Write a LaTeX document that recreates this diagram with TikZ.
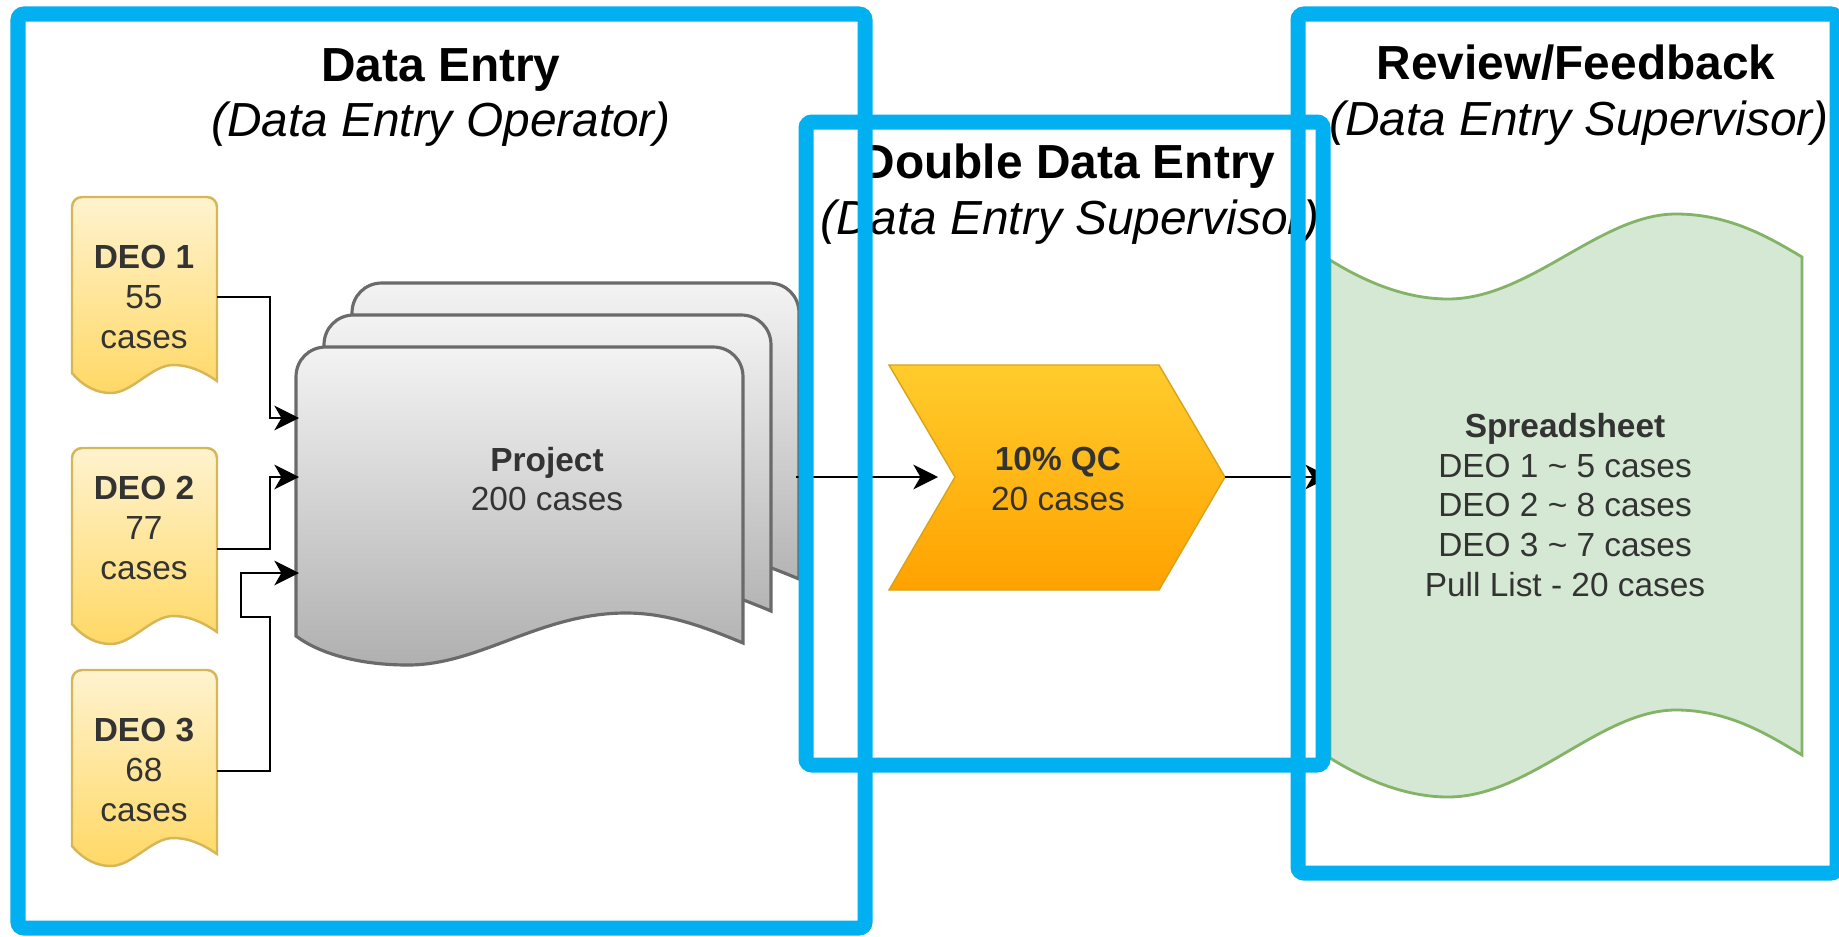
\documentclass[tikz,border=0pt]{standalone}
\usepackage{fontspec}
\setmainfont{Liberation Sans}
\usepackage{xcolor}
\usetikzlibrary{arrows.meta}
\definecolor{phaseblue}{HTML}{00B0F0}
\definecolor{deotop}{HTML}{FFF3CF}
\definecolor{deobottom}{HTML}{FFD865}
\definecolor{deoline}{HTML}{D6B656}
\definecolor{doctop}{HTML}{F3F3F3}
\definecolor{docbottom}{HTML}{B0B0B0}
\definecolor{docline}{HTML}{6A6A6A}
\definecolor{qctop}{HTML}{FFCC2C}
\definecolor{qcbottom}{HTML}{FFA200}
\definecolor{qcline}{HTML}{D9A21A}
\definecolor{sheetfill}{HTML}{D5E8D4}
\definecolor{sheetline}{HTML}{82B366}
\definecolor{innergray}{HTML}{333333}

\tikzset{
  phase/.style={draw=phaseblue, line width=0.15cm, rounded corners=0.06cm},
  heading/.style={font=\fontsize{13.6}{16}\selectfont\bfseries, anchor=base},
  subheading/.style={font=\fontsize{13.6}{16}\selectfont\itshape, anchor=base},
  deoshape/.style={draw=deoline, line width=0.7pt, top color=deotop, bottom color=deobottom},
  projdoc/.style={draw=docline, line width=0.9pt, top color=doctop, bottom color=docbottom},
  qcshape/.style={draw=qcline, line width=0.4pt, top color=qctop, bottom color=qcbottom},
  sheetshape/.style={draw=sheetline, line width=0.8pt, fill=sheetfill},
  intext/.style={font=\fontsize{9.5}{11.3}\selectfont, text=innergray, align=center},
  conn/.style={->, line width=0.65pt, draw=black}
}

\begin{document}
\begin{tikzpicture}[x=0.01cm, y=-0.01cm, >={Stealth[length=7pt,width=7pt,inset=2pt]}]
    \useasboundingbox[fill=white] (0,0) rectangle (1839,936);
    %Project stack
    \foreach \dx/\dy in {56/-64,28/-32,0/0}{
      \begin{scope}[shift={(\dx,\dy)}]
        \draw[projdoc] (296,636) -- (296,377) .. controls (296,360) and (309,347) .. (326,347)
          -- (713,347) .. controls (730,347) and (743,360) .. (743,377) -- (743,643)
          .. controls (700,625) and (665,613) .. (626,613)
          .. controls (540,613) and (480,665) .. (408,665)
          .. controls (360,665) and (320,654) .. (296,636) -- cycle;
      \end{scope}
    }
    \node[intext] (project) at (547,479) {\textbf{Project}\\200 cases};
    %DEO
    \foreach \y in {197,448,670}{
      \begin{scope}[shift={(72,\y)}]
        \draw[deoshape] (0,176) -- (0,10) .. controls (0,4.5) and (4.5,0) .. (10,0) -- (135,0)
          .. controls (140.5,0) and (145,4.5) .. (145,10) -- (145,184)
          .. controls (132,175) and (118,168) .. (101,168)
          .. controls (80,168) and (60,196) .. (39,196)
          .. controls (25,196) and (12,190) .. (0,176) -- cycle;
      \end{scope}
    }
    \node[intext] (deo1) at (144,297) {\textbf{DEO 1}\\55\\cases};
    \node[intext] (deo2) at (144,528) {\textbf{DEO 2}\\77\\cases};
    \node[intext] (deo3) at (144,770) {\textbf{DEO 3}\\68\\cases};
    %QC
    \draw[qcshape] (889,365) -- (1159,365) -- (1225,477) -- (1159,590) -- (889,590) -- (955,477) -- cycle;
    \node[intext] (qc) at (1058,479) {\textbf{10\% QC}\\20 cases};
    %Spreadsheet
    \draw[sheetshape] (1330,260) .. controls (1370,285) and (1410,299) .. (1448,299)
      .. controls (1530,299) and (1600,214) .. (1676,214)
      .. controls (1730,214) and (1770,238) .. (1802,257) -- (1802,755)
      .. controls (1770,736) and (1730,710) .. (1676,710)
      .. controls (1600,710) and (1530,797) .. (1448,797)
      .. controls (1410,797) and (1370,783) .. (1330,758) -- cycle;
    \node[intext] (sheet) at (1565,505) {\textbf{Spreadsheet}\\DEO 1 \textasciitilde{} 5 cases\\DEO 2 \textasciitilde{} 8 cases\\DEO 3 \textasciitilde{} 7 cases\\Pull List - 20 cases};
    %Connectors
    \coordinate (deo1out) at (217,297);
    \coordinate (deo2out) at (217,549);
    \coordinate (deo3out) at (217,771);
    \coordinate (projin1) at (299,418);
    \coordinate (projin2) at (299,477);
    \coordinate (projin3) at (299,573);
    \coordinate (projout) at (796,477);
    \coordinate (qcin) at (938,477);
    \coordinate (qcout) at (1225,477);
    \coordinate (sheetin) at (1330,477);
    \draw[conn] (deo1out) -- ++(53,0) |- (projin1);
    \draw[conn] (deo2out) -- ++(53,0) |- (projin2);
    \draw[conn] (deo3out) -- ++(53,0) -- ++(0,-154) -- ++(-29,0) |- (projin3);
    \draw[conn] (projout) -- (qcin);
    \draw[conn] (qcout) -- (sheetin);
    %Titles
    \node[heading] (dehead) at (441,81) {Data Entry};
    \node[subheading] (desub) at (441,136) {(Data Entry Operator)};
    \node[heading] (ddehead) at (1068,178) {Double Data Entry};
    \node[subheading] (ddesub) at (1070,234) {(Data Entry Supervisor)};
    \node[heading] (rfhead) at (1576,79) {Review/Feedback};
    \node[subheading] (rfsub) at (1579,135) {(Data Entry Supervisor)};
    %Phases
    \draw[phase] (18,14) rectangle (865,928);
    \draw[phase] (806,122) rectangle (1323,765);
    \draw[phase] (1298,14) rectangle (1837,873);
\end{tikzpicture}
\end{document}
